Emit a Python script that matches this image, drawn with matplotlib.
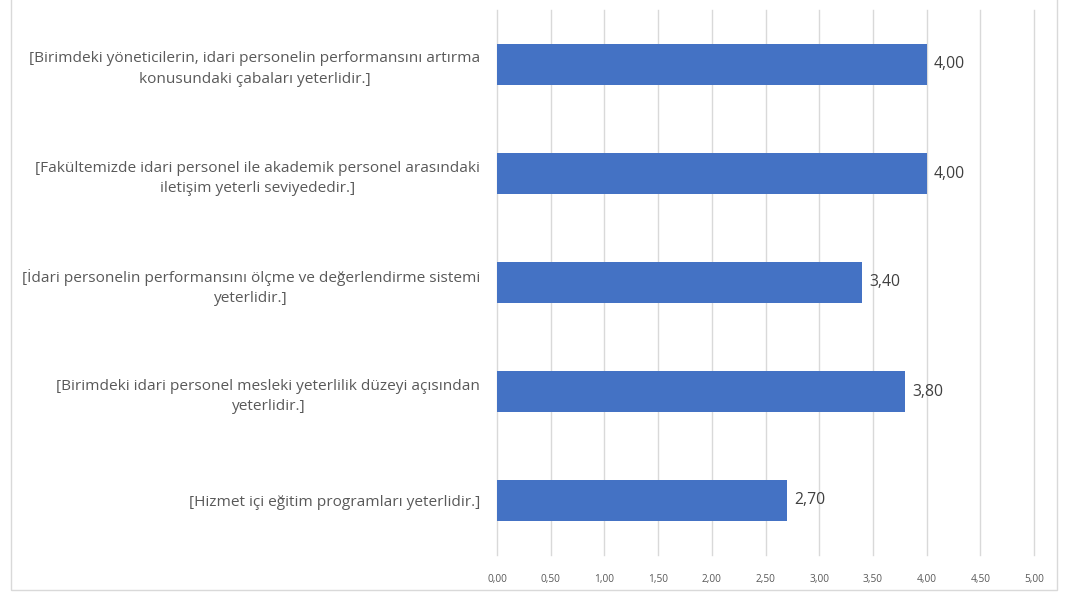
import numpy as np
import matplotlib.pyplot as plt
from matplotlib.patches import Rectangle

labels = [
  "[Birimdeki yöneticilerin, idari personelin performansını artırma\nkonusundaki çabaları yeterlidir.]",
  "[Fakültemizde idari personel ile akademik personel arasındaki\niletişim yeterli seviyededir.]",
  "[İdari personelin performansını ölçme ve değerlendirme sistemi\nyeterlidir.]",
  "[Birimdeki idari personel mesleki yeterlilik düzeyi açısından\nyeterlidir.]",
  "[Hizmet içi eğitim programları yeterlidir.]",
]
values = [4.00, 4.00, 3.40, 3.80, 2.70]
xticks = [0, 0.5, 1, 1.5, 2, 2.5, 3, 3.5, 4, 4.5, 5]

plt.rcParams['font.family'] = ['Open Sans', 'DejaVu Sans']
fig = plt.figure(figsize=(10.72, 5.94), dpi=100)
ax = fig.add_axes([497/1072, 1-555/594, (1034-497)/1072, 545/594])

# chart border
fig.patches.append(Rectangle((11/1072, 1-590/594), (1057-11)/1072, 590/594 + 0.05,
                             transform=fig.transFigure, fill=False, edgecolor='#D9D9D9', lw=1))

y = np.arange(len(values))
ax.barh(y, values, height=0.37, color='#4472C4', zorder=3)
for yi, v in zip(y, values):
  ax.text(v + 0.065, yi, '{:.2f}'.format(v).replace('.', ','), va='center', ha='left',
          fontsize=11.3, color='#404040')

ax.set_ylim(len(values) - 0.5, -0.5)
ax.set_xlim(0, 5)
ax.set_yticks(y)
ax.set_yticklabels(labels, fontsize=11.1, color='#595959', multialignment='center', linespacing=1.5)
ax.set_xticks(xticks)
ax.set_xticklabels(['{:.2f}'.format(t).replace('.', ',') for t in xticks], fontsize=7.3, color='#595959')
ax.tick_params(axis='both', length=0)
ax.tick_params(axis='x', pad=14)
ax.tick_params(axis='y', pad=12)
for t in xticks:
  ax.axvline(t, color='#D9D9D9', lw=1, zorder=0, clip_on=False)
for s in ax.spines.values():
  s.set_visible(False)

fig.savefig('out.png', dpi=100)
